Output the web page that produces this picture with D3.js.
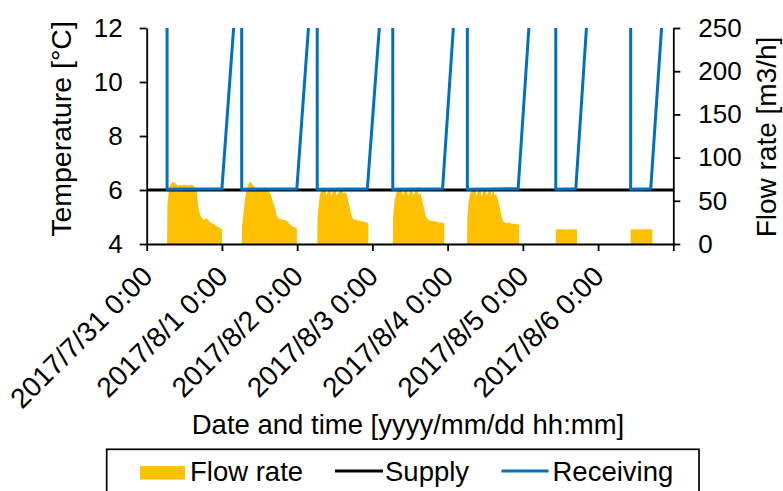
<!DOCTYPE html>
<html>
<head>
<meta charset="utf-8">
<script src="https://cdn.jsdelivr.net/npm/d3@7"></script>
<style>
  body { margin: 0; background: #fff; }
  svg { display: block; font-family: "Liberation Sans", Arial, sans-serif; }
</style>
</head>
<body>
<script>
// days on the x axis (one tick per day, last one unlabelled)
const dayTicks = ["2017-07-31", "2017-08-01", "2017-08-02", "2017-08-03", "2017-08-04", "2017-08-05", "2017-08-06", "2017-08-07"];
const tickLabels = ["2017/7/31 0:00", "2017/8/1 0:00", "2017/8/2 0:00", "2017/8/3 0:00", "2017/8/4 0:00", "2017/8/5 0:00", "2017/8/6 0:00", ""];
const tempTicks = [4, 6, 8, 10, 12];
const flowTicks = [0, 50, 100, 150, 200, 250];

// flow rate [m3/h], one block per day: [hour of day, value]
const flowJul31 = [[6.5,0],[6.6,45],[7.2,66],[7.8,70],[8.3,72],[8.8,71],[9.3,70],[9.8,68],[10.5,68],[11.2,68],[12,69],[12.6,68],[13.2,68],[13.8,68],[14.4,69],[15,67],[15.6,64],[16,60],[16.5,42],[17,34],[17.6,30],[18.2,28],[18.8,29],[19.2,30],[19.7,27],[20.3,25],[20.9,24],[21.5,23],[22,21],[22.6,20],[23.2,19],[23.6,18],[24,18],[24,0]];
const flowAug01 = [[6.3,0],[6.4,20],[7,40],[7.4,53],[8,64],[8.4,68],[8.8,72],[9.3,71],[9.8,69],[10.3,66],[10.8,64],[11.5,64],[12.2,63],[13,63],[13.7,62],[14.4,62],[15,61],[15.5,58],[16,52],[16.5,46],[17,40],[17.5,33],[18,30],[18.6,29],[19.2,28],[19.8,28],[20.4,27],[21,26],[21.6,23],[22.2,21],[22.8,20],[23.4,19],[23.9,18],[23.9,0]];
const flowAug02 = [[6.4,0],[6.5,30],[7,50],[7.3,58],[7.8,62],[8.3,63],[8.9,66],[9.3,56],[9.8,60],[10.5,65],[10.9,55],[11.5,61],[12.1,65],[12.5,56],[13.2,60],[13.8,61],[14.2,65],[14.6,58],[15.2,60],[15.8,58],[16.3,50],[16.8,42],[17.2,35],[17.7,30],[18.3,28],[18.9,28],[19.5,27],[20.1,27],[20.7,26],[21.3,26],[21.8,25],[22.2,25],[22.7,24],[22.7,0]];
const flowAug03 = [[6.5,0],[6.6,30],[7,48],[7.5,58],[8,61],[8.5,62],[9.3,66],[9.7,56],[10.3,61],[10.9,66],[11.4,55],[12,61],[12.5,66],[13,56],[13.6,60],[14.1,65],[14.6,57],[15.2,59],[15.7,54],[16.2,45],[16.8,36],[17.3,30],[17.8,28],[18.5,27],[19.2,27],[19.9,26],[20.6,26],[21.3,25],[22,25],[22.6,24],[22.9,24],[22.9,0]];
const flowAug04 = [[6.2,0],[6.3,30],[6.7,48],[7.1,57],[7.6,61],[8.2,62],[8.7,65],[9.2,56],[9.8,61],[10.3,65],[10.8,55],[11.4,61],[11.9,65],[12.4,56],[13,60],[13.5,65],[14,56],[14.5,63],[15,57],[15.6,57],[16.1,50],[16.7,41],[17.2,32],[17.7,26],[18.3,25],[18.9,24],[19.5,25],[20.1,24],[20.7,23],[21.3,24],[21.9,23],[22.5,23],[22.8,22],[22.8,0]];
const flowAug05 = [[10.5,0],[10.5,16.5],[11,17],[12.5,17],[14,16.8],[15.5,17],[16.8,16.8],[17.3,16.5],[17.3,0]];
const flowAug06 = [[10.4,0],[10.4,16.5],[11,17],[12.5,16.8],[14,17],[15.5,17],[16.8,17],[17.3,16.5],[17.3,0]];

// supply temperature [°C]: [hours since 2017/7/31 0:00, value]
const supplyTemp = [[0,6],[168,6]];

// receiving temperature [°C]: [hours since 2017/7/31 0:00, value]
const receivingTemp = [
  [0,16],[6.5,16],[6.5,6.03],[24.0,6.05],[30.3,16.1],
  [30.3,6.03],[47.9,6.05],[54.4,16.5],
  [54.4,6.03],[70.4,6.05],[78.5,18.7],
  [78.5,6.03],[94.4,6.05],[102.3,19.8],
  [102.3,6.03],[118.5,6.05],[124,15.6],[130.5,16],
  [130.5,6.03],[136.9,6.05],[142,15],[154.4,15.5],
  [154.4,6.03],[160.8,6.05],[166,15],[168,15.5]
];

const svgWidth = 783;
const svgHeight = 491;
const plotLeft = 146.7, plotRight = 673.3, plotTop = 28, plotBottom = 244;

const startMs = Date.UTC(2017, 6, 31);
const hourDate = h => new Date(startMs + h * 3600e3);
const parseDay = d3.utcParse("%Y-%m-%d");

const x = d3.scaleUtc()
    .domain([parseDay(dayTicks[0]), parseDay(dayTicks[dayTicks.length - 1])])
    .range([plotLeft, plotRight]);
const yTemp = d3.scaleLinear().domain([4, 12]).range([plotBottom, plotTop]);
const yFlow = d3.scaleLinear().domain([0, 250]).range([plotBottom, plotTop]);

const svg = d3.select("body").append("svg")
    .attr("width", svgWidth)
    .attr("height", svgHeight);

svg.append("clipPath").attr("id", "plot-clip")
  .append("rect")
    .attr("x", plotLeft).attr("y", plotTop)
    .attr("width", plotRight - plotLeft).attr("height", plotBottom - plotTop);

const plot = svg.append("g").attr("clip-path", "url(#plot-clip)");

// flow rate areas
const flowDays = [flowJul31, flowAug01, flowAug02, flowAug03, flowAug04, flowAug05, flowAug06];
const area = d3.area()
    .x(d => x(d[0]))
    .y0(yFlow(0))
    .y1(d => yFlow(d[1]));

flowDays.forEach((block, i) => {
    const pts = block.map(p => [hourDate(i * 24 + p[0]), p[1]]);
    plot.append("path")
        .datum(pts)
        .attr("d", area)
        .style("fill", "#FFC000");
});

const tempLine = d3.line()
    .x(d => x(hourDate(d[0])))
    .y(d => yTemp(d[1]));

plot.append("path")
    .datum(supplyTemp)
    .attr("d", tempLine)
    .style("fill", "none")
    .style("stroke", "#000")
    .style("stroke-width", 2.8);

plot.append("path")
    .datum(receivingTemp)
    .attr("d", tempLine)
    .style("fill", "none")
    .style("stroke", "#0070C0")
    .style("stroke-width", 3)
    .style("stroke-linejoin", "round");

// axes
function styleAxis(g, size) {
    g.selectAll("path.domain").style("stroke", "#000").style("stroke-width", 1.8);
    g.selectAll(".tick line").style("stroke", "#000").style("stroke-width", 1.8);
    g.selectAll("text")
        .style("font-family", "'Liberation Sans', Arial, sans-serif")
        .style("font-size", size + "px")
        .style("fill", "#000");
}

const xAxis = svg.append("g")
    .attr("transform", `translate(0,${plotBottom})`)
    .call(d3.axisBottom(x)
        .tickValues(dayTicks.map(parseDay))
        .tickSize(7)
        .tickSizeOuter(0)
        .tickFormat((d, i) => tickLabels[i]));
styleAxis(xAxis, 28);
xAxis.selectAll("text")
    .attr("x", 0)
    .attr("y", 0)
    .attr("dy", 0)
    .attr("transform", "translate(7,34) rotate(-45)")
    .style("text-anchor", "end");

const leftAxis = svg.append("g")
    .attr("transform", `translate(${plotLeft},0)`)
    .call(d3.axisLeft(yTemp).tickValues(tempTicks).tickSize(7).tickSizeOuter(0).tickPadding(17));
styleAxis(leftAxis, 26);

const rightAxis = svg.append("g")
    .attr("transform", `translate(${plotRight},0)`)
    .call(d3.axisRight(yFlow).tickValues(flowTicks).tickSize(7).tickSizeOuter(0).tickPadding(18));
styleAxis(rightAxis, 26);

// axis titles
svg.append("text")
    .attr("transform", "translate(71,129) rotate(-90)")
    .attr("text-anchor", "middle")
    .style("font-size", "28.5px")
    .text("Temperature [°C]");

svg.append("text")
    .attr("transform", "translate(776,137) rotate(-90)")
    .attr("text-anchor", "middle")
    .style("font-size", "28px")
    .text("Flow rate [m3/h]");

svg.append("text")
    .attr("x", 408)
    .attr("y", 434)
    .attr("text-anchor", "middle")
    .style("font-size", "27.5px")
    .text("Date and time [yyyy/mm/dd hh:mm]");

// legend
const legend = svg.append("g");
legend.append("rect")
    .attr("x", 106.7).attr("y", 449.3)
    .attr("width", 592.3).attr("height", 60)
    .style("fill", "#fff")
    .style("stroke", "#000")
    .style("stroke-width", 1.7);

legend.append("rect")
    .attr("x", 140).attr("y", 466)
    .attr("width", 45).attr("height", 13.5)
    .style("fill", "#FFC000");
legend.append("text").attr("x", 190).attr("y", 481).style("font-size", "27.5px").text("Flow rate");

legend.append("line")
    .attr("x1", 335).attr("x2", 383).attr("y1", 471).attr("y2", 471)
    .style("stroke", "#000").style("stroke-width", 2.8);
legend.append("text").attr("x", 385).attr("y", 481).style("font-size", "27.5px").text("Supply");

legend.append("line")
    .attr("x1", 501.5).attr("x2", 548.5).attr("y1", 471).attr("y2", 471)
    .style("stroke", "#0070C0").style("stroke-width", 3);
legend.append("text").attr("x", 552.5).attr("y", 481).style("font-size", "27.5px").text("Receiving");
</script>
</body>
</html>
